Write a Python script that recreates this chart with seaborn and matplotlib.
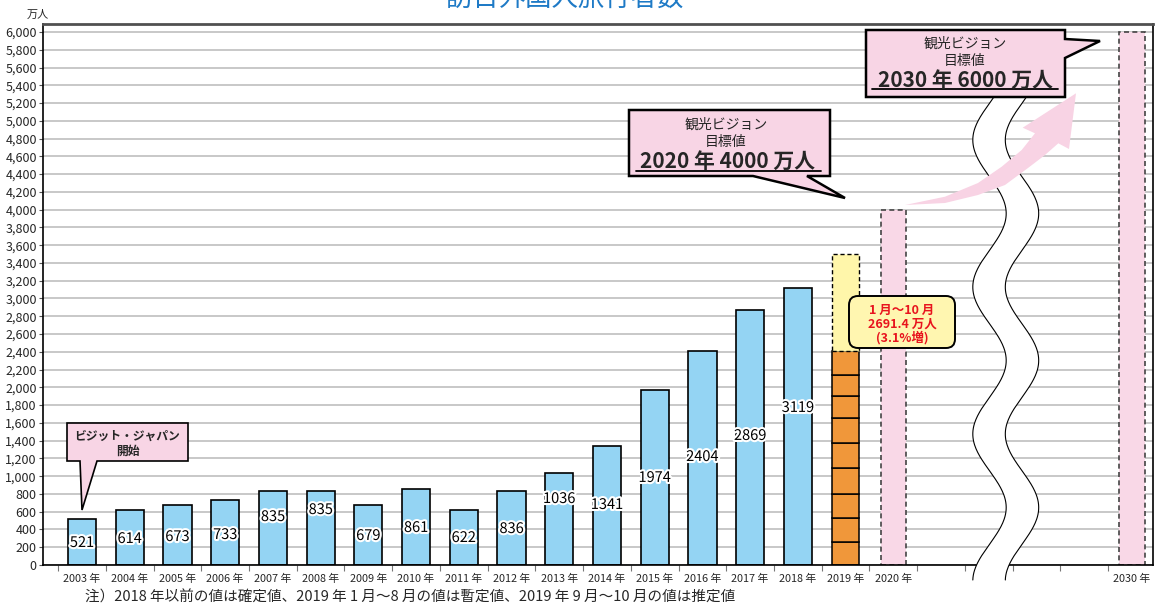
import numpy as np
import pandas as pd
import matplotlib
matplotlib.use("Agg")
import matplotlib.pyplot as plt
import seaborn as sns
from matplotlib.patches import Polygon, FancyBboxPatch
from matplotlib.lines import Line2D
from matplotlib.transforms import IdentityTransform
import matplotlib.patheffects as pe

# ---------------- data ----------------
YEARS = [str(y) for y in range(2003, 2019)]
VISITORS = [521, 614, 673, 733, 835, 835, 679, 861, 622, 836, 1036, 1341, 1974, 2404, 2869, 3119]
MONTHLY_2019 = [263, 263, 274, 297, 274, 289, 248, 236, 263]
PROJ_2019 = 3500
TARGET_YEARS = ["2020", "2030"]
TARGETS = [4000, 6000]
CATEGORIES = YEARS + ["2019", "2020", "g1", "g2", "g3", "g4", "2030"]
TICK_LABELS = [f"{y} 年" for y in YEARS] + ["2019 年", "2020 年", "", "", "", "", "2030 年"]
Y_TICKS = list(range(0, 6001, 200))
# layout: vertical positions of the value labels (data units)
LABEL_Y = [248, 293, 315, 338, 540, 619, 327, 417, 304, 405, 743, 676, 980, 1216, 1453, 1768]

W, H = 1156, 607
sns.set_theme(style="white")
plt.rcParams["font.family"] = ["Noto Sans CJK JP", "DejaVu Sans"]

fig = plt.figure(figsize=(W / 100, H / 100), dpi=100)
ax = fig.add_axes([43 / W, (H - 565) / H, (1153 - 43) / W, (565 - 24) / H])

BLUE = "#94d4f3"
PINK = "#f9d8e7"
ORANGE = "#f0973a"
YELLOW = "#fff6aa"

df = pd.DataFrame({"year": YEARS, "visitors": VISITORS})
sns.barplot(data=df, x="year", y="visitors", order=CATEGORIES, color=BLUE, saturation=1,
            width=0.59, edgecolor="black", linewidth=1.2, errorbar=None, ax=ax)
dt = pd.DataFrame({"year": TARGET_YEARS, "target": TARGETS})
sns.barplot(data=dt, x="year", y="target", order=CATEGORIES, color=PINK, saturation=1,
            width=0.53, edgecolor="#444444", linewidth=1.2, linestyle=(0, (3, 2)),
            errorbar=None, ax=ax)

x19 = CATEGORIES.index("2019")
bottoms = np.concatenate([[0], np.cumsum(MONTHLY_2019)[:-1]])
ax.bar(x19, MONTHLY_2019, bottom=bottoms, width=0.58, color=ORANGE, edgecolor="black", linewidth=1.1)
total19 = float(np.sum(MONTHLY_2019))
ax.bar(x19, PROJ_2019 - total19, bottom=total19, width=0.58, color=YELLOW,
       edgecolor="black", linewidth=1.0, linestyle=(0, (3, 2)))

for i, (v, ly) in enumerate(zip(VISITORS, LABEL_Y)):
    ax.text(i, ly, str(v), ha="center", va="center", fontsize=10.5, color="black",
            path_effects=[pe.withStroke(linewidth=3, foreground="white")], zorder=5)

ax.set_ylim(0, 6090)
ax.set_xlim(-0.817, 22.44)
ax.set_yticks(Y_TICKS)
ax.set_yticklabels([f"{v:,}" for v in Y_TICKS], fontsize=9)
ax.tick_params(axis="y", length=3, width=0.8, pad=1.5, color="#555555", left=True)
ax.set_xticks(range(len(CATEGORIES)))
ax.set_xticklabels(TICK_LABELS, fontsize=7.8)
ax.set_xticks(np.arange(-0.5, 22, 1), minor=True)
ax.tick_params(axis="x", which="major", length=0, pad=6)
ax.tick_params(axis="x", which="minor", length=4, width=0.8, color="#777777", bottom=True)
ax.set_xlabel("")
ax.set_ylabel("")
ax.yaxis.grid(True, color="#b9b9b9", linewidth=1.1)
ax.xaxis.grid(False)
ax.set_axisbelow(True)
for s in ["left", "bottom", "right"]:
    ax.spines[s].set_color("black")
    ax.spines[s].set_linewidth(1.2)
ax.spines["top"].set_color("#505050")
ax.spines["top"].set_linewidth(2)

IT = IdentityTransform()


def D(x, y):
    return (x, H - y)


def poly(pts, **kw):
    p = Polygon([D(*q) for q in pts], closed=True, transform=IT, **kw)
    fig.add_artist(p)
    return p


def ftext(x, y, s, **kw):
    fig.text(*D(x, y), s, transform=IT, **kw)


# wavy axis break
ys = np.linspace(95, 580, 400)
xl = 989.5 - 16.7 * np.cos(2 * np.pi * (ys - 140) / 147)
xr = xl + 32.5
band = list(zip(xl, ys)) + list(zip(xr[::-1], ys[::-1]))
poly(band, facecolor="white", edgecolor="none", zorder=2)
for xs in (xl, xr):
    fig.add_artist(Line2D(xs, H - ys, transform=IT, color="black", linewidth=0.8, zorder=3))

# curved pink arrow (drawn over the break)
arrow = [(905, 205), (945, 196.7), (978, 183), (1001.7, 166.7), (1021.7, 150), (1035, 133.3),
         (1022.7, 127.7), (1076, 93.3), (1069, 149), (1058.3, 143.3),
         (1045, 155), (1028, 168), (1005, 185), (978, 195), (945, 203)]
poly(arrow, facecolor="#f8d3e4", edgecolor="none", zorder=4)

# callout 1
poly([(67, 423), (188, 423), (188, 461), (97, 461), (82, 510), (80, 461), (67, 461)],
     facecolor="#f8d5e5", edgecolor="black", linewidth=1.2, zorder=5)
ftext(127.5, 436, "ビジット・ジャパン", ha="center", va="center", fontsize=8.5, fontweight="bold", zorder=6)
ftext(127.5, 451, "開始", ha="center", va="center", fontsize=8.5, fontweight="bold", zorder=6)

# callout 2 (2020 target)
poly([(629, 110), (830, 110), (830, 176), (807, 176), (845, 198), (753, 176), (629, 176)],
     facecolor="#f8d5e5", edgecolor="black", linewidth=1.8, zorder=5)
ftext(726, 125, "観光ビジョン", ha="center", va="center", fontsize=10, zorder=6)
ftext(726, 142, "目標値", ha="center", va="center", fontsize=10, zorder=6)
ftext(728, 161, "2020 年 4000 万人", ha="center", va="center", fontsize=15, fontweight="bold", zorder=6)
fig.add_artist(Line2D([636, 821], [H - 171, H - 171], transform=IT, color="black", linewidth=1.3, zorder=6))

# callout 3 (2030 target)
poly([(866, 30), (1065, 30), (1065, 39), (1100, 41), (1065, 58), (1065, 97), (866, 97)],
     facecolor="#f8d5e5", edgecolor="black", linewidth=1.8, zorder=5)
ftext(965, 44, "観光ビジョン", ha="center", va="center", fontsize=10, zorder=6)
ftext(965, 61, "目標値", ha="center", va="center", fontsize=10, zorder=6)
ftext(965, 80, "2030 年 6000 万人", ha="center", va="center", fontsize=15, fontweight="bold", zorder=6)
fig.add_artist(Line2D([872, 1058], [H - 89, H - 89], transform=IT, color="black", linewidth=1.3, zorder=6))

# yellow callout
yb = FancyBboxPatch(D(849, 348), 106, 52, boxstyle="round,pad=0,rounding_size=9",
                    transform=IT, facecolor="#fff6b0", edgecolor="black", linewidth=1.4, zorder=5)
fig.add_artist(yb)
ftext(902, 310, "1 月〜10 月", ha="center", va="center", fontsize=9, fontweight="bold", color="#e8141e", zorder=6)
ftext(902, 324, "2691.4 万人", ha="center", va="center", fontsize=9, fontweight="bold", color="#e8141e", zorder=6)
ftext(902, 338, "(3.1%増)", ha="center", va="center", fontsize=9, fontweight="bold", color="#e8141e", zorder=6)

# title, unit, note
ftext(565, 6, "訪日外国人旅行者数", ha="center", va="baseline", fontsize=19, color="#1e7ac6")
ftext(38, 15, "万人", ha="center", va="center", fontsize=8)
ftext(85, 597, "注）2018 年以前の値は確定値、2019 年 1 月〜8 月の値は暫定値、2019 年 9 月〜10 月の値は推定値",
      ha="left", va="center", fontsize=10.5)

fig.savefig("out.png", dpi=100)
